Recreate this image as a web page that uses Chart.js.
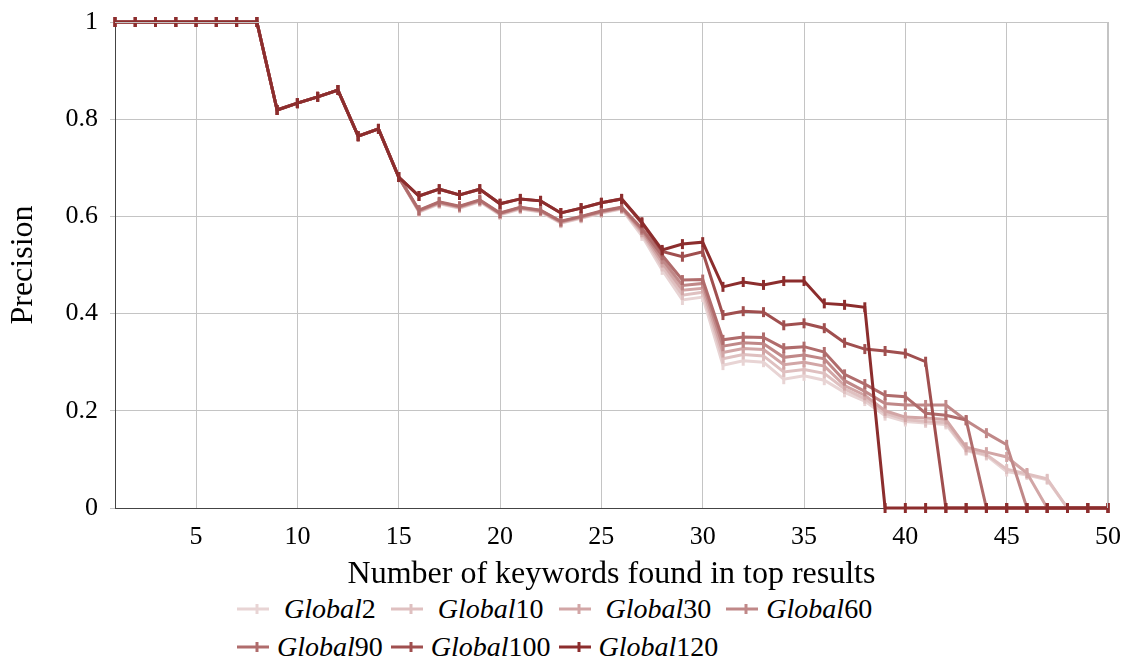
<!DOCTYPE html>
<html>
<head>
<meta charset="utf-8">
<script src="https://cdn.jsdelivr.net/npm/chart.js@4"></script>
<style>
  body { margin: 0; background: #fff; font-family: "Liberation Serif", serif; }
  #wrap { position: relative; width: 1127px; height: 594px; }
  #legend {
    display: grid;
    grid-template-columns: repeat(4, 40px auto);
    justify-content: start;
    grid-auto-rows: 38px;
    align-items: center;
    margin-left: 237px;
    margin-top: -4px;
    font-size: 28px;
    color: #000;
  }
  .swatch { display: flex; align-items: center; margin-right: 8px; }
  .label { text-align: center; margin-right: 8px; white-space: nowrap; }
  .label i { font-style: italic; }
</style>
</head>
<body>
<div id="wrap"><canvas id="chart"></canvas></div>
<div id="legend"></div>
<script>
const keywords = [1, 2, 3, 4, 5, 6, 7, 8, 9, 10, 11, 12, 13, 14, 15, 16, 17, 18, 19, 20,
  21, 22, 23, 24, 25, 26, 27, 28, 29, 30, 31, 32, 33, 34, 35, 36, 37, 38, 39, 40,
  41, 42, 43, 44, 45, 46, 47, 48, 49, 50];
const xTicks = [5, 10, 15, 20, 25, 30, 35, 40, 45, 50];
const yTicks = [0, 0.2, 0.4, 0.6, 0.8, 1];

const seriesNames = ["2", "10", "30", "60", "90", "100", "120"];
const seriesColors = ["#e8d4d4", "#dfc0c0", "#d2a6a6", "#c08888", "#b06c6c", "#a04f4f", "#8c2d2d"];

const global2 = [1, 1, 1, 1, 1, 1, 1, 1, 0.819, 0.833, 0.846, 0.86, 0.765, 0.78, 0.681,
  0.609, 0.626, 0.617, 0.630, 0.603, 0.615, 0.609, 0.586, 0.596, 0.607, 0.615,
  0.560, 0.490, 0.428, 0.434, 0.294, 0.303, 0.300, 0.265, 0.272, 0.263, 0.238, 0.220, 0.190,
  0.178, 0.175, 0.172, 0.118, 0.108, 0.075, 0.068, 0.058, 0, 0, 0];
const global10 = [1, 1, 1, 1, 1, 1, 1, 1, 0.819, 0.833, 0.846, 0.86, 0.765, 0.78, 0.681,
  0.610, 0.627, 0.618, 0.631, 0.604, 0.616, 0.610, 0.587, 0.597, 0.608, 0.616,
  0.565, 0.497, 0.438, 0.444, 0.307, 0.316, 0.313, 0.280, 0.285, 0.277, 0.245, 0.225, 0.195,
  0.182, 0.178, 0.176, 0.120, 0.110, 0.080, 0.070, 0.060, 0, 0, 0];
const global30 = [1, 1, 1, 1, 1, 1, 1, 1, 0.819, 0.833, 0.846, 0.86, 0.765, 0.78, 0.681,
  0.611, 0.628, 0.619, 0.632, 0.605, 0.617, 0.611, 0.588, 0.598, 0.609, 0.617,
  0.568, 0.505, 0.448, 0.452, 0.320, 0.328, 0.326, 0.295, 0.300, 0.292, 0.252, 0.232, 0.200,
  0.187, 0.185, 0.182, 0.125, 0.115, 0.105, 0.072, 0, 0, 0, 0];
const global60 = [1, 1, 1, 1, 1, 1, 1, 1, 0.819, 0.833, 0.846, 0.86, 0.765, 0.78, 0.681,
  0.612, 0.629, 0.620, 0.633, 0.606, 0.618, 0.612, 0.589, 0.599, 0.610, 0.618,
  0.572, 0.512, 0.458, 0.462, 0.333, 0.340, 0.338, 0.310, 0.315, 0.307, 0.262, 0.240, 0.215,
  0.212, 0.212, 0.212, 0.180, 0.154, 0.130, 0, 0, 0, 0, 0];
const global90 = [1, 1, 1, 1, 1, 1, 1, 1, 0.819, 0.833, 0.846, 0.86, 0.765, 0.78, 0.681,
  0.613, 0.630, 0.621, 0.634, 0.607, 0.619, 0.613, 0.590, 0.600, 0.611, 0.619,
  0.575, 0.520, 0.469, 0.470, 0.346, 0.352, 0.351, 0.329, 0.332, 0.321, 0.275, 0.255, 0.232,
  0.229, 0.195, 0.191, 0.181, 0, 0, 0, 0, 0, 0, 0];
const global100 = [1, 1, 1, 1, 1, 1, 1, 1, 0.819, 0.833, 0.846, 0.86, 0.765, 0.78, 0.681,
  0.642, 0.656, 0.644, 0.656, 0.626, 0.636, 0.632, 0.607, 0.617, 0.628, 0.636,
  0.586, 0.528, 0.517, 0.527, 0.397, 0.405, 0.403, 0.376, 0.380, 0.370, 0.340, 0.327, 0.323,
  0.318, 0.301, 0, 0, 0, 0, 0, 0, 0, 0, 0];
const global120 = [1, 1, 1, 1, 1, 1, 1, 1, 0.819, 0.833, 0.846, 0.86, 0.765, 0.78, 0.681,
  0.642, 0.656, 0.644, 0.656, 0.626, 0.636, 0.632, 0.607, 0.617, 0.628, 0.636,
  0.588, 0.531, 0.543, 0.547, 0.455, 0.465, 0.459, 0.467, 0.467, 0.421, 0.418, 0.413, 0,
  0, 0, 0, 0, 0, 0, 0, 0, 0, 0, 0];

const allSeries = [global2, global10, global30, global60, global90, global100, global120];

const datasets = allSeries.map((vals, i) => ({
  label: "Global" + seriesNames[i],
  data: vals.map((v, j) => ({ x: keywords[j], y: v })),
  borderColor: seriesColors[i],
  backgroundColor: seriesColors[i],
  borderWidth: 3,
  pointStyle: "line",
  pointRotation: 90,
  pointRadius: 5,
  pointBorderWidth: 3,
  pointHoverRadius: 5,
  tension: 0,
  clip: false,
  order: allSeries.length - i,
}));

const tickFont = { family: "Liberation Serif", size: 26 };
const titleFont = { family: "Liberation Serif", size: 32 };

new Chart(document.getElementById("chart"), {
  type: "line",
  data: { datasets: datasets },
  options: {
    responsive: true,
    maintainAspectRatio: false,
    animation: false,
    layout: { padding: { top: 22, right: 19, left: 0, bottom: 0 } },
    plugins: { legend: { display: false }, tooltip: { enabled: false } },
    scales: {
      x: {
        type: "linear",
        min: 1,
        max: 50,
        afterBuildTicks: (axis) => { axis.ticks = xTicks.map((v) => ({ value: v })); },
        afterFit: (axis) => {
          axis.height = 86;
          axis.paddingLeft = 0;
          axis.paddingRight = 0;
        },
        grid: { color: "#c4c4c4", lineWidth: 1, tickLength: 0, drawTicks: false },
        border: { color: "#444", width: 1 },
        ticks: { color: "#000", font: tickFont, padding: 14, maxRotation: 0 },
        title: {
          display: true,
          text: "Number of keywords found in top results",
          color: "#000",
          font: titleFont,
          padding: { top: 0, bottom: 0 },
        },
      },
      y: {
        min: 0,
        max: 1,
        afterBuildTicks: (axis) => { axis.ticks = yTicks.map((v) => ({ value: v })); },
        afterFit: (axis) => {
          axis.width = 115;
          axis.paddingTop = 0;
          axis.paddingBottom = 0;
        },
        grid: { color: "#c4c4c4", lineWidth: 1, tickLength: 5 },
        border: { color: "#444", width: 1 },
        ticks: { color: "#000", font: tickFont, padding: 12, callback: (v) => String(v) },
        title: {
          display: true,
          text: "Precision",
          color: "#000",
          font: titleFont,
          padding: { top: 4, bottom: 0 },
        },
      },
    },
  },
  plugins: [{
    id: "frame",
    afterDraw(chart) {
      const { ctx, chartArea: a } = chart;
      ctx.save();
      ctx.strokeStyle = "#c4c4c4";
      ctx.lineWidth = 1;
      ctx.beginPath();
      ctx.moveTo(a.left, a.top + 0.5);
      ctx.lineTo(a.right, a.top + 0.5);
      ctx.moveTo(a.right - 0.5, a.top);
      ctx.lineTo(a.right - 0.5, a.bottom);
      ctx.stroke();
      ctx.restore();
    },
  }],
});

// legend: pgfplots style table, 4 columns of swatch + centred text
const legend = document.getElementById("legend");
seriesNames.forEach((name, i) => {
  const c = seriesColors[i];
  const sw = document.createElement("div");
  sw.className = "swatch";
  sw.innerHTML =
    '<svg width="40" height="16"><line x1="0" y1="8" x2="40" y2="8" stroke="' + c +
    '" stroke-width="3"/><line x1="20" y1="3" x2="20" y2="13" stroke="' + c +
    '" stroke-width="3"/></svg>';
  const lb = document.createElement("div");
  lb.className = "label";
  lb.innerHTML = "<i>Global</i>" + name;
  legend.appendChild(sw);
  legend.appendChild(lb);
});
</script>
</body>
</html>
